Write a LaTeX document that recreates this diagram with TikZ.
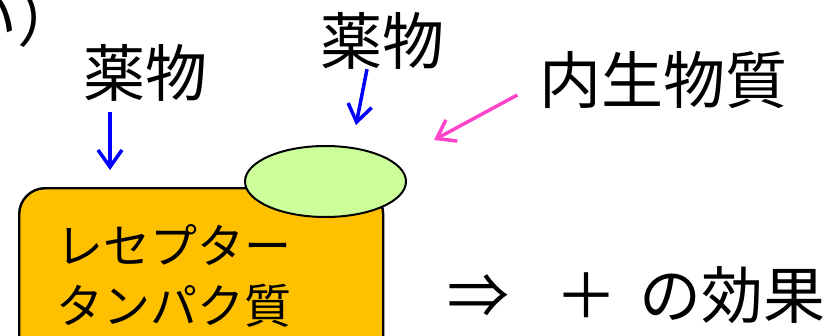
\documentclass[tikz,border=0pt]{standalone}
\usepackage{fontspec}
\newfontfamily\jp{Noto Sans CJK JP}
\usetikzlibrary{arrows.meta,shapes.geometric}
\definecolor{boxorange}{HTML}{FFC000}
\definecolor{ellgreen}{HTML}{CCFF99}
\definecolor{arrblue}{HTML}{0000FF}
\definecolor{arrpink}{HTML}{FF44CC}
\tikzset{
  lbl/.style={font=\jp\fontsize{62}{62}\selectfont, inner sep=0pt, text=black},
  boxtext/.style={font=\jp\fontsize{47}{60}\selectfont, inner sep=0pt, align=left},
  recbox/.style={draw=black, line width=2.4pt, fill=boxorange, rounded corners=26pt},
  site/.style={draw=black, line width=2pt, fill=ellgreen, ellipse},
  drugarrow/.style={draw=arrblue, line width=3.5pt, -{Straight Barb[length=17pt,width=24pt]}},
  endoarrow/.style={draw=arrpink, line width=3.5pt, -{Straight Barb[length=17pt,width=24pt]}}
}
\begin{document}
\begin{tikzpicture}[x=1pt,y=-1pt]
\useasboundingbox (0,0) rectangle (835,335);
% receptor box
\node[recbox, minimum width=364pt, minimum height=180pt, anchor=north west] (box) at (18,187) {};
\node[site, minimum width=161pt, minimum height=71pt] (site) at (325.5,181.5) {};
% text in box
\node[boxtext, anchor=base west] (rtxt) at (56,323) {レセプター\\タンパク質};
% labels
\node[lbl, anchor=base west] (ii) at (-45,41) {い）};
\node[lbl, anchor=base] (drugL) at (145,96) {薬物};
\node[lbl, anchor=base] (drugR) at (382,64) {薬物};
\node[lbl, anchor=base] (endo) at (663.5,103) {内生物質};
\node[lbl, anchor=base west] (effect) at (447,318) {⇒\hspace{46pt}＋\hspace{22pt}の効果};
% arrows
\coordinate (tipL) at (110,170);
\coordinate (tipR) at (356,125);
\coordinate (tipE) at (434,140);
\draw[drugarrow] (drugL.south -| tipL) ++(0,11) -- (tipL);
\draw[drugarrow] ([xshift=-15pt]drugR.south) -- (tipR);
\draw[endoarrow] ([shift={(-22pt,8pt)}]endo.base west) -- (tipE);
\end{tikzpicture}
\end{document}
